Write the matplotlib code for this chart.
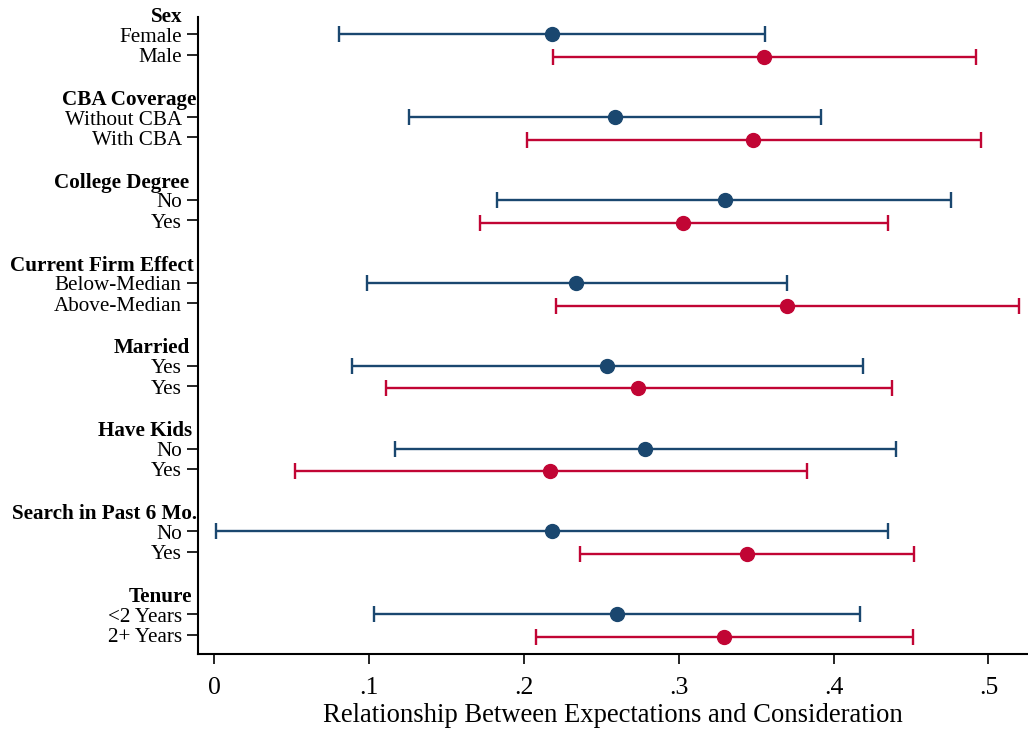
import numpy as np
import matplotlib
matplotlib.use("Agg")
import matplotlib.pyplot as plt

# =========================
# Data
# =========================
groups = ["Sex", "CBA Coverage", "College Degree", "Current Firm Effect",
          "Married", "Have Kids", "Search in Past 6 Mo.", "Tenure"]
labels_first = ["Female", "Without CBA", "No", "Below-Median",
                "Yes", "No", "No", "<2 Years"]
labels_second = ["Male", "With CBA", "Yes", "Above-Median",
                 "Yes", "Yes", "Yes", "2+ Years"]

# first row of each group (blue)
blue_est = [0.218, 0.259, 0.330, 0.234, 0.254, 0.278, 0.218, 0.260]
blue_lo = [0.081, 0.126, 0.183, 0.099, 0.089, 0.117, 0.001, 0.103]
blue_hi = [0.356, 0.392, 0.476, 0.370, 0.419, 0.440, 0.435, 0.417]

# second row of each group (red)
red_est = [0.355, 0.348, 0.303, 0.370, 0.274, 0.217, 0.344, 0.329]
red_lo = [0.219, 0.202, 0.172, 0.221, 0.111, 0.052, 0.236, 0.208]
red_hi = [0.492, 0.495, 0.435, 0.520, 0.438, 0.383, 0.452, 0.451]

xticks = [0, 0.1, 0.2, 0.3, 0.4, 0.5]
xtick_labels = ["0", ".1", ".2", ".3", ".4", ".5"]
xlabel = "Relationship Between Expectations and Consideration"

BLUE = "#1a476f"
RED = "#c10534"

# layout (in row units)
GROUP_STEP = 3.65
TICK_GAP = 0.894
# small horizontal nudges of the bold headings (pixels left of the axis)
header_nudge = [15, 1, 9, 4, 8, 6, 1, 6]
LABEL_GAP = 16   # px from axis to right end of row labels
TEXT_DROP = 3    # px, labels sit a touch below their ticks

plt.rcParams["font.family"] = ["Liberation Serif", "DejaVu Serif"]

fig = plt.figure(figsize=(10.28, 7.30), dpi=100)
W, H = 1028, 730
ax = fig.add_axes([197.7 / W, 1 - 654.3 / H, 1 - 197.7 / W, (654.3 - 17) / H])

base = np.arange(len(groups)) * GROUP_STEP
y_blue = base
y_red = base + 1

def draw(est, lo, hi, y, color):
    est = np.asarray(est)
    err = np.vstack([est - np.asarray(lo), np.asarray(hi) - est])
    ax.errorbar(est, y, xerr=err, fmt="o", color=color, ecolor=color,
                markersize=10, elinewidth=1.7, capsize=5.5, capthick=1.7,
                zorder=3)

draw(blue_est, blue_lo, blue_hi, y_blue, BLUE)
draw(red_est, red_lo, red_hi, y_red, RED)

def side_label(text, y, nudge, bold=False):
    ax.annotate(text, xy=(0, y), xycoords=("axes fraction", "data"),
                xytext=(-nudge * 0.72, -TEXT_DROP * 0.72),
                textcoords="offset points", ha="right", va="center",
                fontsize=15.2, fontweight="bold" if bold else "normal",
                annotation_clip=False)

# y ticks sit slightly tighter than the markers (as in the original)
ytick_pos = np.concatenate([base, base + TICK_GAP])
ax.set_yticks(ytick_pos)
ax.set_yticklabels([])
for g in range(len(groups)):
    side_label(groups[g], base[g] - TICK_GAP, header_nudge[g], bold=True)
    side_label(labels_first[g], base[g], LABEL_GAP)
    side_label(labels_second[g], base[g] + TICK_GAP, LABEL_GAP)

ax.set_xticks(xticks)
ax.set_xticklabels(xtick_labels, fontsize=18.5)
ax.set_xlabel(xlabel, fontsize=19.2, labelpad=3)

ax.set_xlim(-0.0105, 0.5255)
ax.set_ylim(27.31, -0.76)

for side in ["top", "right"]:
    ax.spines[side].set_visible(False)
for side in ["left", "bottom"]:
    ax.spines[side].set_linewidth(1.5)
ax.tick_params(axis="y", length=8, width=1.2)
ax.tick_params(axis="x", length=7.5, width=1.2, pad=9)

fig.savefig("out.png", dpi=100)
